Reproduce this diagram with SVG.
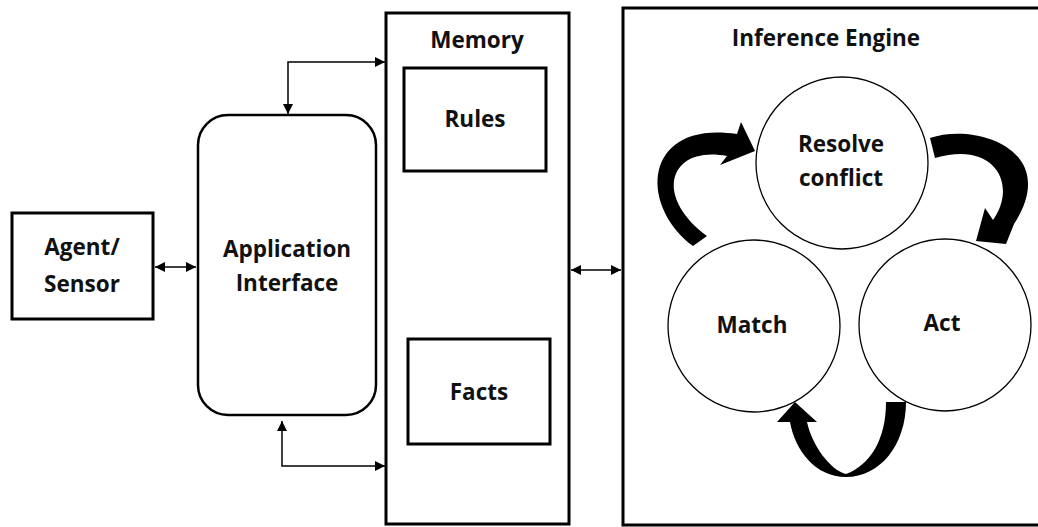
<svg xmlns="http://www.w3.org/2000/svg" width="1038" height="527" viewBox="0 0 1038 527">
<defs>
<marker id="ah" viewBox="0 0 10 10" refX="10" refY="5" markerWidth="10" markerHeight="10" markerUnits="userSpaceOnUse" orient="auto-start-reverse">
<path d="M0,0 L10,5 L0,10 Z" fill="#000"/>
</marker>
</defs>
<style>
.box{fill:#fff;stroke:#000;stroke-width:3}
.circ{fill:#fff;stroke:#000;stroke-width:1.3}
.lbl{font-family:"Open Sans","Noto Sans",sans-serif;font-weight:bold;font-size:22.5px;fill:#111;text-anchor:middle}
.con{fill:none;stroke:#000;stroke-width:1.5;marker-start:url(#ah);marker-end:url(#ah)}
.big{fill:#000;stroke:none}
</style>
<rect width="1038" height="527" fill="#fff"/>
<g id="agent">
<rect class="box" x="12" y="213" width="141" height="106"/>
<text class="lbl" x="82" y="255">Agent/</text>
<text class="lbl" x="82" y="292">Sensor</text>
</g>
<g id="appif">
<rect x="198" y="115" width="178" height="300" rx="30" ry="30" fill="#fff" stroke="#000" stroke-width="2.5"/>
<text class="lbl" x="287" y="257">Application</text>
<text class="lbl" x="287" y="291">Interface</text>
</g>
<g id="memory">
<rect class="box" x="386" y="13" width="183" height="511"/>
<text class="lbl" x="477" y="48">Memory</text>
</g>
<g id="rules">
<rect class="box" x="404" y="68" width="142" height="103"/>
<text class="lbl" x="475" y="127">Rules</text>
</g>
<g id="facts">
<rect class="box" x="408" y="339" width="142" height="105"/>
<text class="lbl" x="479" y="400">Facts</text>
</g>
<g id="inference">
<rect class="box" x="623" y="8" width="430" height="517"/>
<text class="lbl" x="826" y="46">Inference Engine</text>
</g>
<g id="resolve">
<circle class="circ" cx="842" cy="163" r="86"/>
<text class="lbl" x="841" y="152">Resolve</text>
<text class="lbl" x="841" y="186">conflict</text>
</g>
<g id="match">
<circle class="circ" cx="754" cy="326" r="86"/>
<text class="lbl" x="752" y="333">Match</text>
</g>
<g id="act">
<circle class="circ" cx="945" cy="325" r="86"/>
<text class="lbl" x="942" y="331">Act</text>
</g>
<g id="connectors">
<path class="con" d="M155,267 H196"/>
<path class="con" d="M288,114 V62 H385"/>
<path class="con" d="M282,421 V466 H385"/>
<path class="con" d="M571,270 H621"/>
<path class="big" d="M693 246 C 638 205, 643 120, 737 134 L 741 122 L 755 151 L 720 165 L 727 156 C 670 145, 652 195, 707 236 Z"/>
<path class="big" d="M930 138 C 975 122, 1062 150, 1014 224 L 1006 244 L 976 241 L 985 208 L 993 220 C 1018 185, 995 140, 935 158 Z"/>
<path class="big" d="M906 402 C 906 445, 880 477, 846 477 C 815 477, 795 450, 790 422 L 777 422 L 795 402 L 817 422 L 807 422 C 812 445, 830 470, 846 474 C 870 465, 886 440, 886 402 Z"/>
</g>
</svg>
